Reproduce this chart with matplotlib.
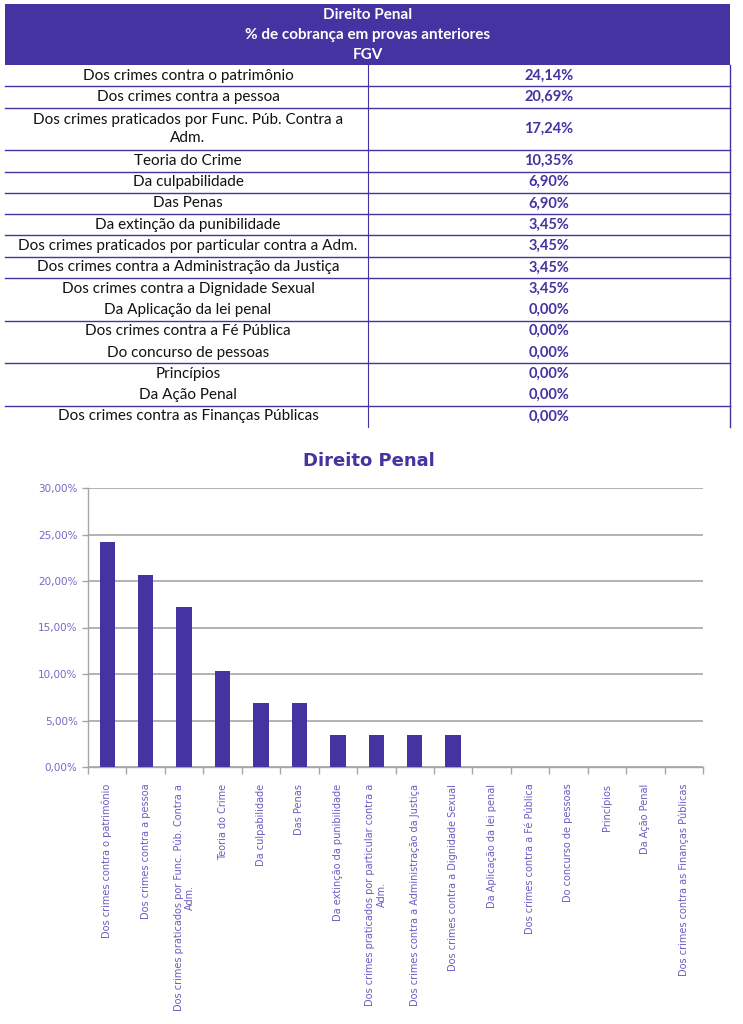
import matplotlib.pyplot as plt
from matplotlib.patches import Rectangle
from matplotlib.ticker import FuncFormatter, MultipleLocator

# data
categorias = [
    "Dos crimes contra o patrimônio",
    "Dos crimes contra a pessoa",
    "Dos crimes praticados por Func. Púb. Contra a\nAdm.",
    "Teoria do Crime",
    "Da culpabilidade",
    "Das Penas",
    "Da extinção da punibilidade",
    "Dos crimes praticados por particular contra a Adm.",
    "Dos crimes contra a Administração da Justiça",
    "Dos crimes contra a Dignidade Sexual",
    "Da Aplicação da lei penal",
    "Dos crimes contra a Fé Pública",
    "Do concurso de pessoas",
    "Princípios",
    "Da Ação Penal",
    "Dos crimes contra as Finanças Públicas",
]
# the chart wraps one label differently from the table
rotulos_grafico = list(categorias)
rotulos_grafico[7] = "Dos crimes praticados por particular contra a\nAdm."
percentuais = [24.14, 20.69, 17.24, 10.35, 6.90, 6.90, 3.45, 3.45, 3.45, 3.45,
               0.00, 0.00, 0.00, 0.00, 0.00, 0.00]
titulo = ["Direito Penal", "% de cobrança em provas anteriores", "FGV"]

roxo = "#4433a0"
roxo_claro = "#6a5cc0"

def pct(v, _=None):
    return f"{v:.2f}%".replace(".", ",")

W, H = 743, 1024
fig = plt.figure(figsize=(W / 100, H / 100), dpi=100)

# ---- table (drawn in pixel coordinates) ----
tab = fig.add_axes([0, 0, 1, 1])
tab.set_xlim(0, W)
tab.set_ylim(H, 0)
tab.axis("off")

x0, xm, x1 = 5, 368, 730
head_top, head_bot = 4, 65
tab.add_patch(Rectangle((x0, head_top), x1 - x0, head_bot - head_top, color=roxo, lw=0))
for i, t in enumerate(titulo):
    tab.text((x0 + x1) / 2, 15 + i * 20, t, color="white", fontsize=11,
             fontweight="bold", family="Lato", ha="center", va="center")

row_h = 21.3
heights = [1, 1, 2] + [1] * 13
no_line = {9, 11, 13}  # rows without a bottom border
y = head_bot
for i, (cat, v) in enumerate(zip(categorias, percentuais)):
    h = heights[i] * row_h
    yc = y + h / 2
    tab.text(188, yc, cat, fontsize=11, family="Lato", color="#111111",
             ha="center", va="center", multialignment="center", linespacing=1.4)
    tab.text(549, yc, pct(v), fontsize=10.5, family="Lato", fontweight="bold",
             color=roxo, ha="center", va="center")
    y += h
    if i not in no_line and i != len(categorias) - 1:
        tab.plot([x0, x1], [y, y], color=roxo, lw=1)
tab.plot([xm, xm], [head_bot, y], color=roxo, lw=0.8)
tab.plot([x1, x1], [head_bot, y], color=roxo, lw=1)

# ---- bar chart ----
left, right, top, bottom = 88, 703, 488, 767
ax = fig.add_axes([left / W, 1 - bottom / H, (right - left) / W, (bottom - top) / H])
xs = range(len(percentuais))
ax.bar(xs, percentuais, width=0.4, color=roxo, zorder=3)
ax.set_ylim(0, 30)
ax.set_xlim(-0.5, len(percentuais) - 0.5)
ax.yaxis.set_major_locator(MultipleLocator(5))
ax.yaxis.set_major_formatter(FuncFormatter(pct))
ax.grid(axis="y", color="#a6a6a6", lw=1.2, zorder=0)
ax.tick_params(axis="y", colors="#a6a6a6", labelcolor="#7568c8", labelsize=7.5,
               length=4, width=1)

ax.set_xticks(list(xs))
ax.set_xticklabels(rotulos_grafico, rotation=90, ha="center", va="top",
                   multialignment="center", fontsize=7, color=roxo_claro)
ax.set_xticks([i - 0.5 for i in range(len(percentuais) + 1)], minor=True)
ax.tick_params(axis="x", which="major", length=0, pad=12)
ax.tick_params(axis="x", which="minor", length=5, width=1, color="#a6a6a6")

for s in ["top", "right"]:
    ax.spines[s].set_visible(False)
for s in ["left", "bottom"]:
    ax.spines[s].set_color("#a6a6a6")
    ax.spines[s].set_linewidth(1)

fig.text(369 / W, 1 - 461 / H, "Direito Penal", color=roxo,
         fontsize=13, fontweight="bold", ha="center", va="center")

fig.savefig("out.png", dpi=100, facecolor="white")
